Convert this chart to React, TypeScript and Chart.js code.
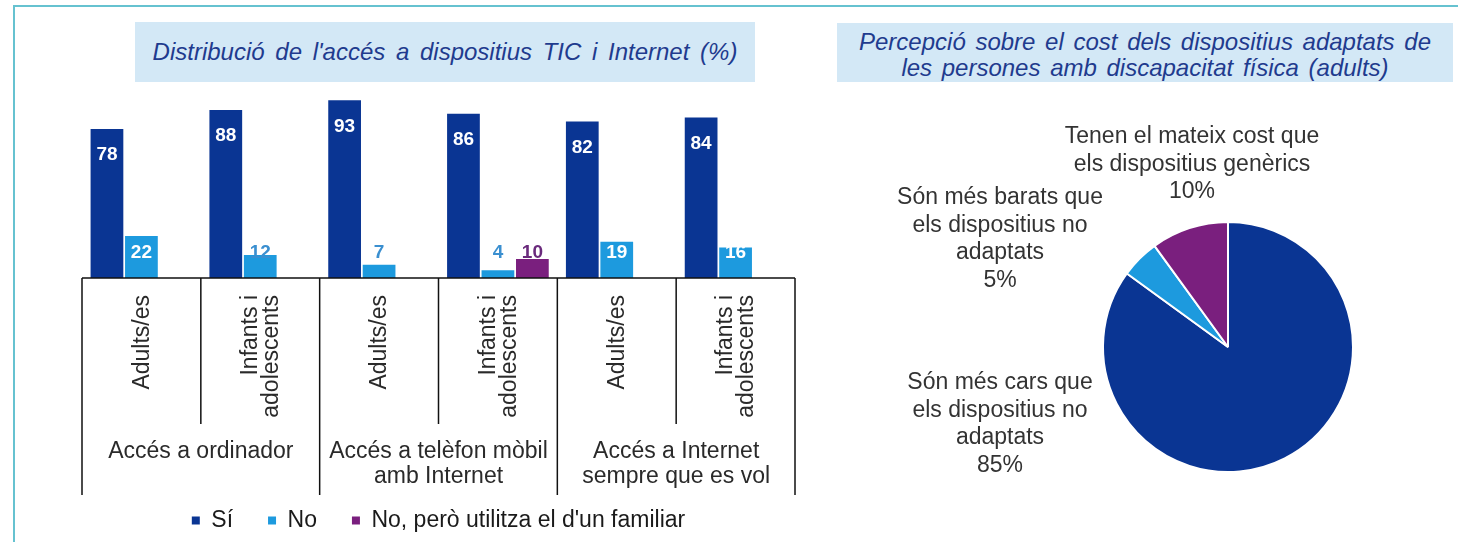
import React, { useEffect, useRef } from "react";
import { Chart, registerables } from "chart.js";

Chart.register(...registerables);

const FONT = '"Liberation Sans", Arial, Helvetica, sans-serif';

// ---------- data ----------
const subCategories: string[][] = [
  ["Adults/es"],
  ["Infants i", "adolescents"],
  ["Adults/es"],
  ["Infants i", "adolescents"],
  ["Adults/es"],
  ["Infants i", "adolescents"],
];
const groupLabels: string[][] = [
  ["Accés a ordinador"],
  ["Accés a telèfon mòbil", "amb Internet"],
  ["Accés a Internet", "sempre que es vol"],
];
const seriesNames = ["Sí", "No", "No, però utilitza el d'un familiar"];
const siValues = [78, 88, 93, 86, 82, 84];
const noValues = [22, 12, 7, 4, 19, 16];
const familiarValues: (number | null)[] = [null, null, null, 10, null, null];

const pieLabels: string[][] = [
  ["Són més cars que", "els dispositius no", "adaptats"],
  ["Són més barats que", "els dispositius no", "adaptats"],
  ["Tenen el mateix cost que", "els dispositius genèrics"],
];
const pieValues = [85, 5, 10];

const leftTitle = "Distribució de l'accés a dispositius TIC i Internet (%)";
const rightTitle = [
  "Percepció sobre el cost dels dispositius adaptats de",
  "les persones amb discapacitat física (adults)",
];

// ---------- styles ----------
const DARK = "#0a3593";
const LIGHT = "#1d9ade";
const PURPLE = "#7a1f7e";
const TEXT = "#2a2a2a";
const TITLE_COLOR = "#1f3b8e";
const TITLE_BG = "#d3e8f6";

// offsets of pie label blocks from the pie centre (first line centre)
const pieLabelOffsets = [
  { dx: -228, dy: 36 },
  { dx: -228, dy: -149 },
  { dx: -36, dy: -210 },
];

const axisTablePlugin = {
  id: "axisTable",
  afterDraw(chart: any) {
    const ctx = chart.ctx;
    const xs = chart.scales.x;
    const area = chart.chartArea;
    const n = siValues.length;
    const catW = xs.getPixelForValue(1) - xs.getPixelForValue(0);
    const edge = (i: number) => xs.getPixelForValue(0) + (i - 0.5) * catW;
    ctx.save();
    ctx.strokeStyle = "#111";
    ctx.lineWidth = 1.5;
    ctx.beginPath();
    ctx.moveTo(edge(0), area.bottom);
    ctx.lineTo(edge(n), area.bottom);
    for (let i = 0; i <= n; i++) {
      const long = i % 2 === 0;
      ctx.moveTo(edge(i), area.bottom);
      ctx.lineTo(edge(i), area.bottom + (long ? 217 : 146));
    }
    ctx.stroke();

    ctx.fillStyle = TEXT;
    ctx.font = `23px ${FONT}`;
    // rotated sub-category labels
    subCategories.forEach((lines, i) => {
      const cx = xs.getPixelForValue(i) + 1;
      ctx.save();
      ctx.translate(cx, area.bottom + 17);
      ctx.rotate(-Math.PI / 2);
      ctx.textAlign = "right";
      ctx.textBaseline = "middle";
      const lh = 21;
      lines.forEach((t, k) => {
        const v = (k - (lines.length - 1) / 2) * lh;
        ctx.fillText(t, 0, v);
      });
      ctx.restore();
    });
    // group labels
    ctx.textAlign = "center";
    ctx.textBaseline = "middle";
    groupLabels.forEach((lines, g) => {
      const cx = (edge(2 * g) + edge(2 * g + 2)) / 2;
      lines.forEach((t, k) => {
        ctx.fillText(t, cx, area.bottom + 174 + k * 25);
      });
    });
    ctx.restore();
  },
};

const valueLabelPlugin = {
  id: "valueLabels",
  afterDatasetsDraw(chart: any) {
    const ctx = chart.ctx;
    ctx.save();
    ctx.font = `bold 19px ${FONT}`;
    ctx.textAlign = "center";
    ctx.textBaseline = "middle";
    chart.data.datasets.forEach((ds: any, di: number) => {
      const meta = chart.getDatasetMeta(di);
      meta.data.forEach((bar: any, i: number) => {
        const v = ds.data[i];
        if (v === null || v === undefined) return;
        if (di === 0) {
          ctx.fillStyle = "#ffffff";
          ctx.fillText(String(v), bar.x, bar.y + 26);
        } else {
          const ly = bar.base - 25;
          ctx.fillStyle = bar.y <= ly - 3 ? "#ffffff" : ds.labelColor;
          ctx.fillText(String(v), bar.x, ly);
        }
      });
    });
    ctx.restore();
  },
};

const pieLabelPlugin = {
  id: "pieLabels",
  afterDraw(chart: any) {
    const ctx = chart.ctx;
    const meta = chart.getDatasetMeta(0);
    const arc = meta.data[0];
    if (!arc) return;
    const cx = arc.x;
    const cy = arc.y;
    const total = pieValues.reduce((a, b) => a + b, 0);
    ctx.save();
    ctx.font = `23px ${FONT}`;
    ctx.fillStyle = "#333333";
    ctx.textAlign = "center";
    ctx.textBaseline = "middle";
    pieLabels.forEach((lines, i) => {
      const off = pieLabelOffsets[i];
      const all = [...lines, `${Math.round((pieValues[i] / total) * 100)}%`];
      all.forEach((t, k) => {
        ctx.fillText(t, cx + off.dx, cy + off.dy + k * 27.5);
      });
    });
    ctx.restore();
  },
};

function BarChart() {
  const ref = useRef<HTMLCanvasElement>(null);
  useEffect(() => {
    if (!ref.current) return;
    const chart = new Chart(ref.current, {
      type: "bar",
      data: {
        labels: subCategories.map((l) => l.join(" ")),
        datasets: [
          { label: seriesNames[0], data: siValues, backgroundColor: DARK, labelColor: DARK } as any,
          { label: seriesNames[1], data: noValues, backgroundColor: LIGHT, labelColor: "#3a8fd0" } as any,
          { label: seriesNames[2], data: familiarValues, backgroundColor: PURPLE, labelColor: "#6a2a7c" } as any,
        ],
      },
      options: {
        responsive: false,
        animation: false,
        devicePixelRatio: 1,
        categoryPercentage: 0.87,
        barPercentage: 0.95,
        layout: { padding: { left: 82, right: 25, top: 87, bottom: 0 } },
        scales: {
          x: {
            display: true,
            ticks: { display: false },
            grid: { display: false },
            border: { display: false },
            afterFit: (scale: any) => {
              scale.height = 196;
            },
          },
          y: { display: false, min: 0, max: 100 },
        },
        plugins: {
          legend: {
            display: true,
            position: "bottom",
            labels: {
              boxWidth: 8,
              boxHeight: 8,
              padding: 35,
              color: "#1a1a1a",
              font: { family: FONT, size: 23 },
            },
          },
          tooltip: { enabled: false },
        },
      } as any,
      plugins: [axisTablePlugin, valueLabelPlugin],
    });
    return () => chart.destroy();
  }, []);
  return (
    <canvas
      ref={ref}
      width={820}
      height={542}
      style={{ position: "absolute", left: 0, top: 0, width: 820, height: 542 }}
    />
  );
}

function PieChart() {
  const ref = useRef<HTMLCanvasElement>(null);
  useEffect(() => {
    if (!ref.current) return;
    const chart = new Chart(ref.current, {
      type: "pie",
      data: {
        labels: pieLabels.map((l) => l.join(" ")),
        datasets: [
          {
            data: pieValues,
            backgroundColor: [DARK, LIGHT, PURPLE],
            borderColor: "#ffffff",
            borderWidth: 2,
            hoverOffset: 0,
          },
        ],
      },
      options: {
        responsive: false,
        animation: false,
        devicePixelRatio: 1,
        layout: { padding: { left: 282, right: 104, top: 221, bottom: 69 } },
        plugins: { legend: { display: false }, tooltip: { enabled: false } },
      } as any,
      plugins: [pieLabelPlugin],
    });
    return () => chart.destroy();
  }, []);
  return (
    <canvas
      ref={ref}
      width={638}
      height={542}
      style={{ position: "absolute", left: 820, top: 0, width: 638, height: 542 }}
    />
  );
}

export default function App() {
  const titleStyle: React.CSSProperties = {
    position: "absolute",
    background: TITLE_BG,
    color: TITLE_COLOR,
    fontFamily: FONT,
    fontStyle: "italic",
    fontSize: 24,
    wordSpacing: 4,
    textAlign: "center",
    display: "flex",
    flexDirection: "column",
    justifyContent: "center",
    whiteSpace: "nowrap",
  };
  return (
    <div
      style={{
        position: "absolute",
        left: 0,
        top: 0,
        width: 1458,
        height: 542,
        background: "#ffffff",
        overflow: "hidden",
      }}
    >
      <div
        style={{
          position: "absolute",
          left: 13,
          top: 5,
          width: 1460,
          height: 560,
          borderTop: "2px solid #66c2d0",
          borderLeft: "2px solid #66c2d0",
        }}
      />
      <BarChart />
      <PieChart />
      <div style={{ ...titleStyle, left: 135, top: 22, width: 620, height: 60, lineHeight: "26px" }}>
        {leftTitle}
      </div>
      <div
        style={{
          ...titleStyle,
          left: 837,
          top: 23,
          width: 616,
          height: 59,
          lineHeight: "26px",
          paddingTop: 4,
          boxSizing: "border-box",
          wordSpacing: 3,
        }}
      >
        {rightTitle.map((t, i) => (
          <div key={i}>{t}</div>
        ))}
      </div>
    </div>
  );
}
